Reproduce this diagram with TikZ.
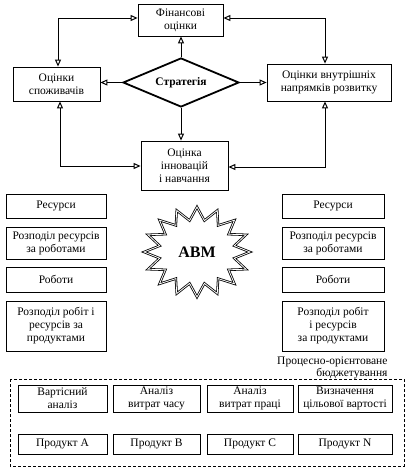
\documentclass[tikz,border=0pt]{standalone}
\usepackage{fontspec}
\setmainfont{Liberation Serif}
\usetikzlibrary{arrows.meta,shapes.geometric}
\begin{document}
\begin{tikzpicture}[x=1pt,y=-1pt,
  box/.style={draw, line width=0.8pt, align=center, inner sep=1pt, font=\fontsize{11.5}{13}\selectfont},
  tip/.tip={Triangle[open,length=7pt,width=6pt,line width=1pt]},
  arr/.style={line width=0.7pt, -tip},
  arrb/.style={line width=0.7pt, tip-tip},
  starline/.style={draw, line width=0.8pt, double, double distance=0.8pt}
]
\useasboundingbox (0,0) rectangle (414,470);
% top network
\node[box, minimum width=85pt, minimum height=32pt] (fin) at (180.5,20) {Фінансові\\оцінки};
\node[box, minimum width=87pt, minimum height=34pt] (cons) at (56.5,84) {Оцінки\\споживачів};
\node[box, minimum width=124pt, minimum height=37pt] (intl) at (329,82.5) {Оцінки внутрішніх\\напрямків розвитку};
\node[box, minimum width=87pt, minimum height=49pt] (inn) at (184.5,165.5) {Оцінка\\інновацій\\і навчання};
\node[diamond, draw, line width=1.8pt, aspect=2.37, minimum width=116pt, minimum height=49pt, inner sep=0pt,
      font=\fontsize{11.5}{13}\selectfont\bfseries] (d) at (181,82.5) {Стратегія};
\draw[arr] (d.north) -- (d.north |- fin.south);
\draw[arr] (d.west) -- (d.west -| cons.east);
\draw[arr] (d.east) -- (d.east -| intl.west);
\draw[arr] (d.south) -- (d.south |- inn.north);
\coordinate (lt) at (58,18);
\coordinate (rt) at (325,18);
\coordinate (lb) at (60,166);
\coordinate (rb) at (325,167);
\draw[arrb] (lt |- cons.north) -- (lt) -- (lt -| fin.west);
\draw[arrb] (rt -| fin.east) -- (rt) -- (rt |- intl.north);
\draw[arrb] (lb |- cons.south) -- (lb) -- (lb -| inn.west);
\draw[arrb] (rb |- intl.south) -- (rb) -- (rb -| inn.east);
% columns
\node[box, minimum width=100pt, minimum height=24pt] (l1) at (56,206) {Ресурси};
\node[box, minimum width=100pt, minimum height=32pt] (l2) at (56,243) {Розподіл ресурсів\\за роботами};
\node[box, minimum width=100pt, minimum height=25pt] (l3) at (56,279.5) {Роботи};
\node[box, minimum width=100pt, minimum height=50pt] (l4) at (56,326) {Розподіл робіт і\\ресурсів за\\продуктами};
\node[box, minimum width=102pt, minimum height=24pt] (r1) at (333,206) {Ресурси};
\node[box, minimum width=102pt, minimum height=32pt] (r2) at (333,243) {Розподіл ресурсів\\за роботами};
\node[box, minimum width=102pt, minimum height=25pt] (r3) at (333,279.5) {Роботи};
\node[box, minimum width=102pt, minimum height=50pt] (r4) at (333,326) {Розподіл робіт\\і ресурсів\\за продуктами};
% star
\draw[starline] plot[samples at={0,...,31}, variable=\i]
  ({197+ifthenelse(mod(\i,2)==0,53,38)*cos(90+\i*11.25)},
   {252-ifthenelse(mod(\i,2)==0,45,32)*sin(90+\i*11.25)}) -- cycle;
\node[font=\fontsize{16}{18}\selectfont\bfseries] (abm) at (197,252) {ABM};
% bottom
\node[align=right, anchor=east, font=\fontsize{11.5}{12}\selectfont] (pob) at (391,368) {Процесно-орієнтоване\\бюджетування};
\draw[line width=0.8pt, dash pattern=on 3pt off 2pt] (10,379) rectangle (404,466);
\node[box, minimum width=89pt, minimum height=27pt] (a1) at (62.5,398.5) {Вартісний\\аналіз};
\node[box, minimum width=87pt, minimum height=27pt] (a2) at (156.5,398.5) {Аналіз\\витрат часу};
\node[box, minimum width=86pt, minimum height=27pt] (a3) at (250,398.5) {Аналіз\\витрат праці};
\node[box, minimum width=94pt, minimum height=27pt] (a4) at (345,398.5) {Визначення\\цільової вартості};
\node[box, minimum width=89pt, minimum height=20pt] (p1) at (62.5,444) {Продукт A};
\node[box, minimum width=87pt, minimum height=20pt] (p2) at (156.5,444) {Продукт B};
\node[box, minimum width=86pt, minimum height=20pt] (p3) at (250,444) {Продукт C};
\node[box, minimum width=94pt, minimum height=20pt] (p4) at (345,444) {Продукт N};
\end{tikzpicture}
\end{document}
